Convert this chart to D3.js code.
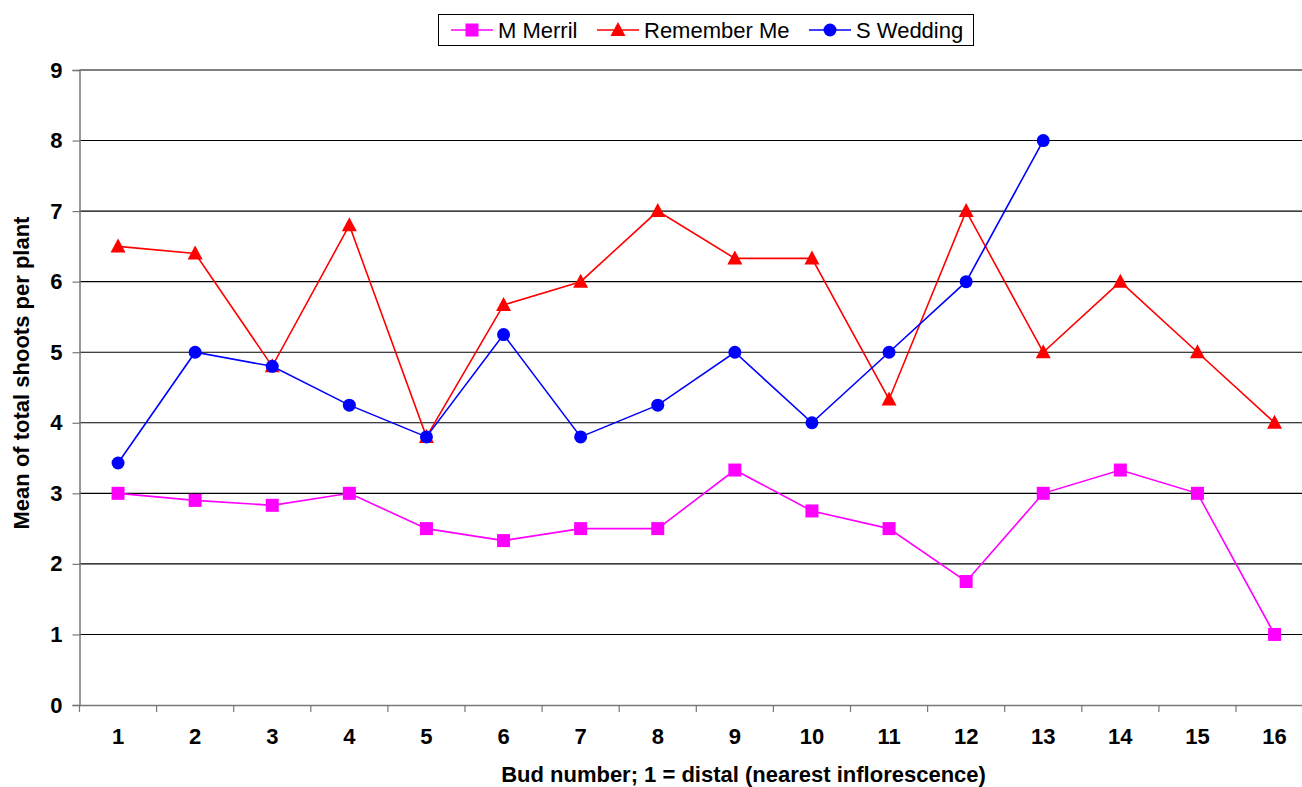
<!DOCTYPE html>
<html><head><meta charset="utf-8">
<script src="https://cdn.jsdelivr.net/npm/d3@7/dist/d3.min.js"></script>
<style>body{margin:0;background:#fff}svg{display:block}</style>
</head><body>
<svg id="c" width="1302" height="787"></svg>
<script>
const categories = ["1","2","3","4","5","6","7","8","9","10","11","12","13","14","15","16"];
const yTicks = [0,1,2,3,4,5,6,7,8,9];
const mMerril = [3, 2.9, 2.83, 3, 2.5, 2.33, 2.5, 2.5, 3.33, 2.75, 2.5, 1.75, 3, 3.33, 3, 1];
const rememberMe = [6.5, 6.4, 4.8, 6.8, 3.8, 5.67, 6, 7, 6.33, 6.33, 4.33, 7, 5, 6, 5, 4];
const sWedding = [3.43, 5, 4.8, 4.25, 3.8, 5.25, 3.8, 4.25, 5, 4, 5, 6, 8, null, null, null];
const seriesNames = ["M Merril", "Remember Me", "S Wedding"];
const seriesColors = ["#ff00ff", "#ff0000", "#0000ff"];
const seriesShapes = ["square", "triangle", "circle"];
const seriesData = [mMerril, rememberMe, sWedding];

const svg = d3.select("#c");
const L = 79.5, T = 70, B = 705, R = 79.5 + 16*77.1;
const x = d3.scaleBand().domain(categories).range([L, R]).padding(0);
const y = d3.scaleLinear().domain([0, 9]).range([B, T]);
const font = "'Liberation Sans', Arial, sans-serif";

// gridlines
svg.append("g").selectAll("line").data(yTicks.filter(d=>d>0)).join("line")
  .attr("x1", L).attr("x2", R).attr("y1", d=>y(d)).attr("y2", d=>y(d))
  .attr("stroke", "#000").attr("stroke-width", 1.1);

// y axis
const ya = svg.append("g").attr("transform", `translate(${L},0)`)
  .call(d3.axisLeft(y).tickValues(yTicks).tickSize(7).tickPadding(10));
ya.select(".domain").attr("stroke", "#777").attr("stroke-width", 1.5);
ya.selectAll(".tick line").attr("stroke", "#777").attr("stroke-width", 1.2);
ya.selectAll("text").attr("font-family", font).attr("font-weight", "bold").attr("font-size", 22).attr("fill", "#000");

// x axis
const xa = svg.append("g").attr("transform", `translate(0,${B})`)
  .call(d3.axisBottom(x).tickSize(0).tickPadding(23));
xa.select(".domain").attr("stroke", "#777").attr("stroke-width", 1.5);
xa.selectAll("text").attr("font-family", font).attr("font-weight", "bold").attr("font-size", 22).attr("fill", "#000");
// category boundary ticks
svg.append("g").selectAll("line").data(categories).join("line")
  .attr("x1", d=>x(d)).attr("x2", d=>x(d)).attr("y1", B).attr("y2", B+7)
  .attr("stroke", "#777").attr("stroke-width", 1.2);

// axis titles
svg.append("text").attr("x", 743.5).attr("y", 782).attr("text-anchor", "middle")
  .attr("font-family", font).attr("font-weight", "bold").attr("font-size", 22)
  .text("Bud number; 1 = distal (nearest inflorescence)");
svg.append("text").attr("transform", `translate(29,373) rotate(-90)`).attr("text-anchor", "middle")
  .attr("font-family", font).attr("font-weight", "bold").attr("font-size", 22)
  .text("Mean of total shoots per plant");

function marker(g, shape, color, cx, cy) {
  if (shape === "square") g.append("rect").attr("x", cx-6.5).attr("y", cy-6.5).attr("width", 13).attr("height", 13).attr("fill", color);
  else if (shape === "triangle") g.append("path").attr("d", `M${cx},${cy-8}L${cx+7.5},${cy+6}L${cx-7.5},${cy+6}Z`).attr("fill", color);
  else g.append("circle").attr("cx", cx).attr("cy", cy).attr("r", 6.5).attr("fill", color);
}

const cx = d => x(d) + x.bandwidth()/2;
seriesData.forEach((vals, i) => {
  const pts = categories.map((c, j) => ({c, v: vals[j]})).filter(p => p.v !== null);
  const line = d3.line().x(p => cx(p.c)).y(p => y(p.v));
  svg.append("path").datum(pts).attr("d", line).attr("fill", "none")
    .attr("stroke", seriesColors[i]).attr("stroke-width", 1.6);
  const g = svg.append("g");
  pts.forEach(p => marker(g, seriesShapes[i], seriesColors[i], cx(p.c), y(p.v)));
});

// legend
const lg = svg.append("g");
lg.append("rect").attr("x", 438.5).attr("y", 14.5).attr("width", 535).attr("height", 31)
  .attr("fill", "#fff").attr("stroke", "#000").attr("stroke-width", 1);
const legendX = [451, 597, 809];
seriesNames.forEach((n, i) => {
  const lx = legendX[i], ly = 30;
  lg.append("line").attr("x1", lx).attr("x2", lx+42).attr("y1", ly).attr("y2", ly).attr("stroke", seriesColors[i]).attr("stroke-width", 1.4);
  marker(lg, seriesShapes[i], seriesColors[i], lx+21, ly);
  lg.append("text").attr("x", lx+47).attr("y", ly+8).attr("font-family", font).attr("font-size", 22).text(n);
});
</script>
</body></html>
